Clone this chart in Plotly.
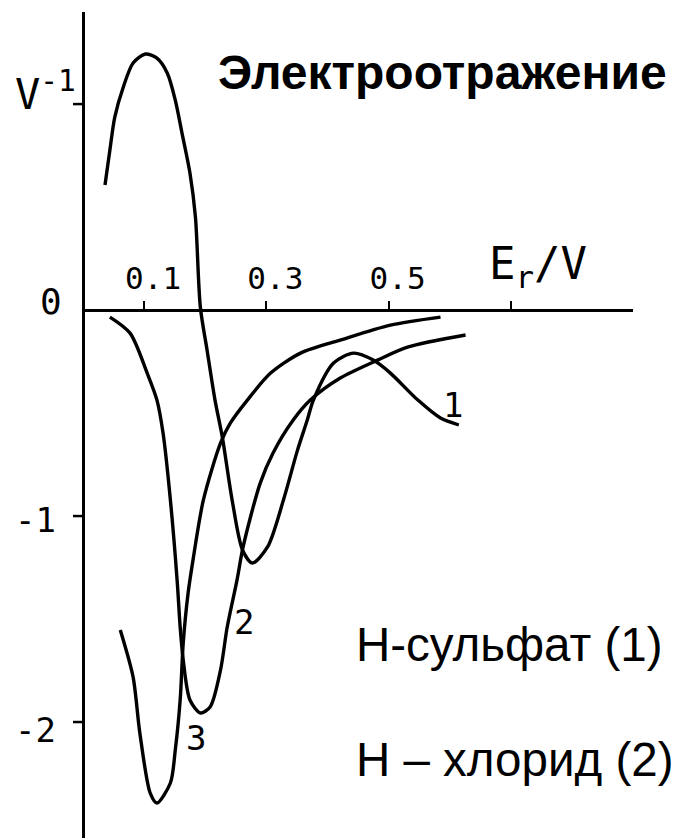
import plotly.graph_objects as go

# Electroreflectance spectra: signal (V^-1) versus electrode potential E_r (V)
curve1_x = [0.036, 0.044, 0.052, 0.066, 0.082, 0.102, 0.121, 0.138, 0.151, 0.162, 0.175, 0.184,
            0.192, 0.203, 0.216, 0.228, 0.244, 0.261, 0.277, 0.302, 0.328, 0.351, 0.367, 0.377,
            0.410, 0.443, 0.475, 0.503, 0.548, 0.585, 0.615]
curve1_y = [0.607, 0.777, 0.937, 1.083, 1.199, 1.243, 1.223, 1.150, 1.019, 0.859, 0.665, 0.451,
            0.015, -0.194, -0.437, -0.617, -0.922, -1.165, -1.228, -1.150, -0.922, -0.680, -0.534, -0.437,
            -0.257, -0.209, -0.243, -0.306, -0.437, -0.524, -0.558]

curve2_x = [0.044, 0.077, 0.105, 0.121, 0.131, 0.143, 0.154, 0.159, 0.164, 0.175, 0.192, 0.208,
            0.225, 0.236, 0.252, 0.262, 0.290, 0.311, 0.344, 0.372, 0.421, 0.482, 0.531, 0.626]
curve2_y = [-0.034, -0.112, -0.306, -0.437, -0.597, -0.922, -1.311, -1.539, -1.699, -1.893, -1.956, -1.927,
            -1.748, -1.539, -1.311, -1.150, -0.840, -0.694, -0.534, -0.437, -0.330, -0.243, -0.180, -0.121]

curve3_x = [0.061, 0.082, 0.093, 0.110, 0.121, 0.143, 0.151, 0.159, 0.164, 0.172, 0.180, 0.197,
            0.225, 0.241, 0.269, 0.307, 0.356, 0.421, 0.503, 0.585]
curve3_y = [-1.553, -1.782, -2.053, -2.345, -2.393, -2.296, -2.136, -1.893, -1.617, -1.374, -1.214, -0.922,
            -0.646, -0.549, -0.437, -0.306, -0.209, -0.146, -0.073, -0.034]

x_tick_vals = [0.1, 0.3, 0.5]
x_tick_text = ["0.1", "0.3", "0.5"]
x_minor_ticks = [0.1, 0.3, 0.5, 0.7]
y_label_vals = [1, 0, -1, -2]
y_label_text = ["V<sup>-1</sup>", "0", "-1", "-2"]
y_tick_marks = [1, -1, -2]

curve_labels = ["1", "2", "3"]
label_x = [0.605, 0.264, 0.185]
label_y = [-0.461, -1.515, -2.078]

W, H = 680, 838
AXIS_X = 83  # pixel column of the vertical axis
mono = "DejaVu Sans Mono"

fig = go.Figure()
for xs, ys in [(curve1_x, curve1_y), (curve2_x, curve2_y), (curve3_x, curve3_y)]:
    fig.add_trace(go.Scatter(x=xs, y=ys, mode="lines",
                             line=dict(color="black", width=3.4, shape="spline", smoothing=0.8),
                             showlegend=False, hoverinfo="skip"))

for t, lx, ly in zip(curve_labels, label_x, label_y):
    fig.add_annotation(x=lx, y=ly, text=t, showarrow=False,
                       font=dict(family=mono, size=34, color="black"))

# y-axis tick marks: short strokes to the left of the vertical axis
for v in y_tick_marks:
    fig.add_shape(type="line", xref="paper", yref="y",
                  x0=(AXIS_X - 10) / W, x1=AXIS_X / W, y0=v, y1=v,
                  line=dict(color="black", width=2.5))

# y-axis labels, placed left of the axis at their values
y_label_dy = [0.06, 0.04, -0.02, -0.04]
y_label_right = [78, 64, 58, 58]
y_label_size = [42, 36, 34, 34]
for v, t, dy, xr, fs in zip(y_label_vals, y_label_text, y_label_dy, y_label_right, y_label_size):
    fig.add_annotation(x=xr / W, xref="paper", y=v + dy, yref="y", text=t,
                       xanchor="right", showarrow=False,
                       font=dict(family=mono, size=fs, color="black"))

fig.add_annotation(x=0.745, y=0.21, text="E<sub>r</sub>/V", showarrow=False,
                   font=dict(family=mono, size=44, color="black"))

fig.add_annotation(x=216 / W, y=1 - 44 / H, xref="paper", yref="paper",
                   xanchor="left", yanchor="top", showarrow=False,
                   text="<b>Электроотражение</b>",
                   font=dict(family="Liberation Sans", size=48, color="black"))
fig.add_annotation(x=354 / W, y=1 - 616 / H, xref="paper", yref="paper",
                   xanchor="left", yanchor="top", showarrow=False,
                   text="H-сульфат (1)",
                   font=dict(family="Liberation Sans", size=47.5, color="black"))
fig.add_annotation(x=354 / W, y=1 - 731 / H, xref="paper", yref="paper",
                   xanchor="left", yanchor="top", showarrow=False,
                   text="H – хлорид (2)",
                   font=dict(family="Liberation Sans", size=47.5, color="black"))

fig.update_layout(
    width=W, height=H,
    margin=dict(l=0, r=0, t=0, b=0),
    paper_bgcolor="white", plot_bgcolor="white",
    xaxis=dict(
        domain=[AXIS_X / W, 633 / W], range=[0, 0.90],
        anchor="free", position=1 - 310 / H,
        showgrid=False, zeroline=False,
        showline=True, linecolor="black", linewidth=2.5,
        tickmode="array", tickvals=x_tick_vals, ticktext=x_tick_text,
        ticks="", ticklabelposition="inside", ticklabelstandoff=17, ticklabelshift=9,
        tickfont=dict(family=mono, size=31, color="black"),
        minor=dict(tickmode="array", tickvals=x_minor_ticks, ticks="inside",
                   ticklen=8, tickwidth=2, tickcolor="black", showgrid=False),
    ),
    yaxis=dict(
        domain=[0, 1 - 12 / H], range=[-2.563, 1.447],
        anchor="free", position=AXIS_X / W,
        showgrid=False, zeroline=False,
        showline=True, linecolor="black", linewidth=2.5,
        showticklabels=False, ticks="",
    ),
)

fig.write_html("out.html")
